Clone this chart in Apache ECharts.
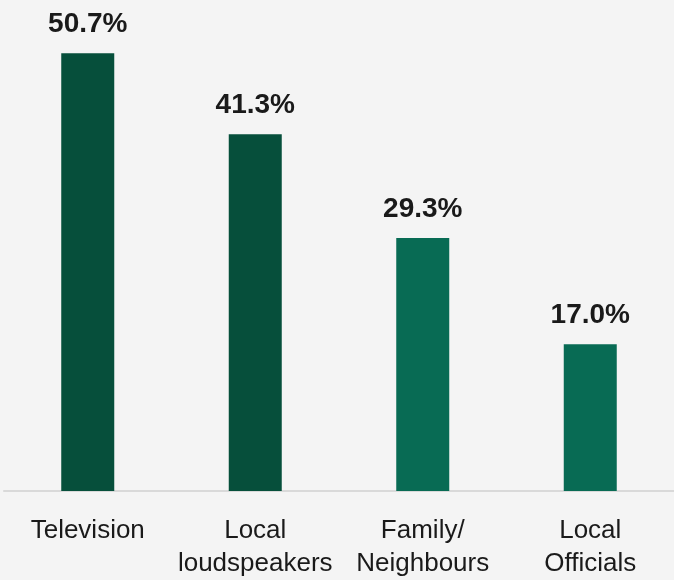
<!DOCTYPE html>
<html>
<head>
<meta charset="utf-8">
<script src="https://cdn.jsdelivr.net/npm/echarts@6/dist/echarts.min.js"></script>
<style>
  html, body { margin: 0; padding: 0; background: #f4f4f4; }
  #chart { width: 674px; height: 580px; }
</style>
</head>
<body>
<div id="chart"></div>
<script>
// Sources of information (share of respondents, %)
const categories = ['Television', 'Local\nloudspeakers', 'Family/\nNeighbours', 'Local\nOfficials'];
const values = [50.7, 41.3, 29.3, 17.0];
const barColors = ['#064f3b', '#064f3b', '#086b54', '#086b54'];

const chart = echarts.init(document.getElementById('chart'), null, { renderer: 'canvas' });

chart.setOption({
  backgroundColor: '#f4f4f4',
  animation: false,
  grid: { left: 4, width: 676, top: 16, height: 477, containLabel: false },
  xAxis: {
    type: 'category',
    data: categories,
    axisLine: { show: true, lineStyle: { color: '#d9d9d9', width: 2 } },
    axisTick: { show: false },
    axisLabel: {
      interval: 0,
      margin: 23,
      color: '#1a1a1a',
      fontFamily: 'Liberation Sans',
      fontSize: 26,
      lineHeight: 33
    }
  },
  yAxis: {
    type: 'value',
    min: 0,
    max: 55,
    show: false,
    splitLine: { show: false }
  },
  series: [{
    type: 'bar',
    barWidth: 53,
    data: values.map((v, i) => ({ value: v, itemStyle: { color: barColors[i] } })),
    label: {
      show: true,
      position: 'top',
      distance: 15,
      formatter: p => p.value.toFixed(1) + '%',
      color: '#1a1a1a',
      fontFamily: 'Liberation Sans',
      fontWeight: 'bold',
      fontSize: 28
    }
  }]
});
</script>
</body>
</html>
